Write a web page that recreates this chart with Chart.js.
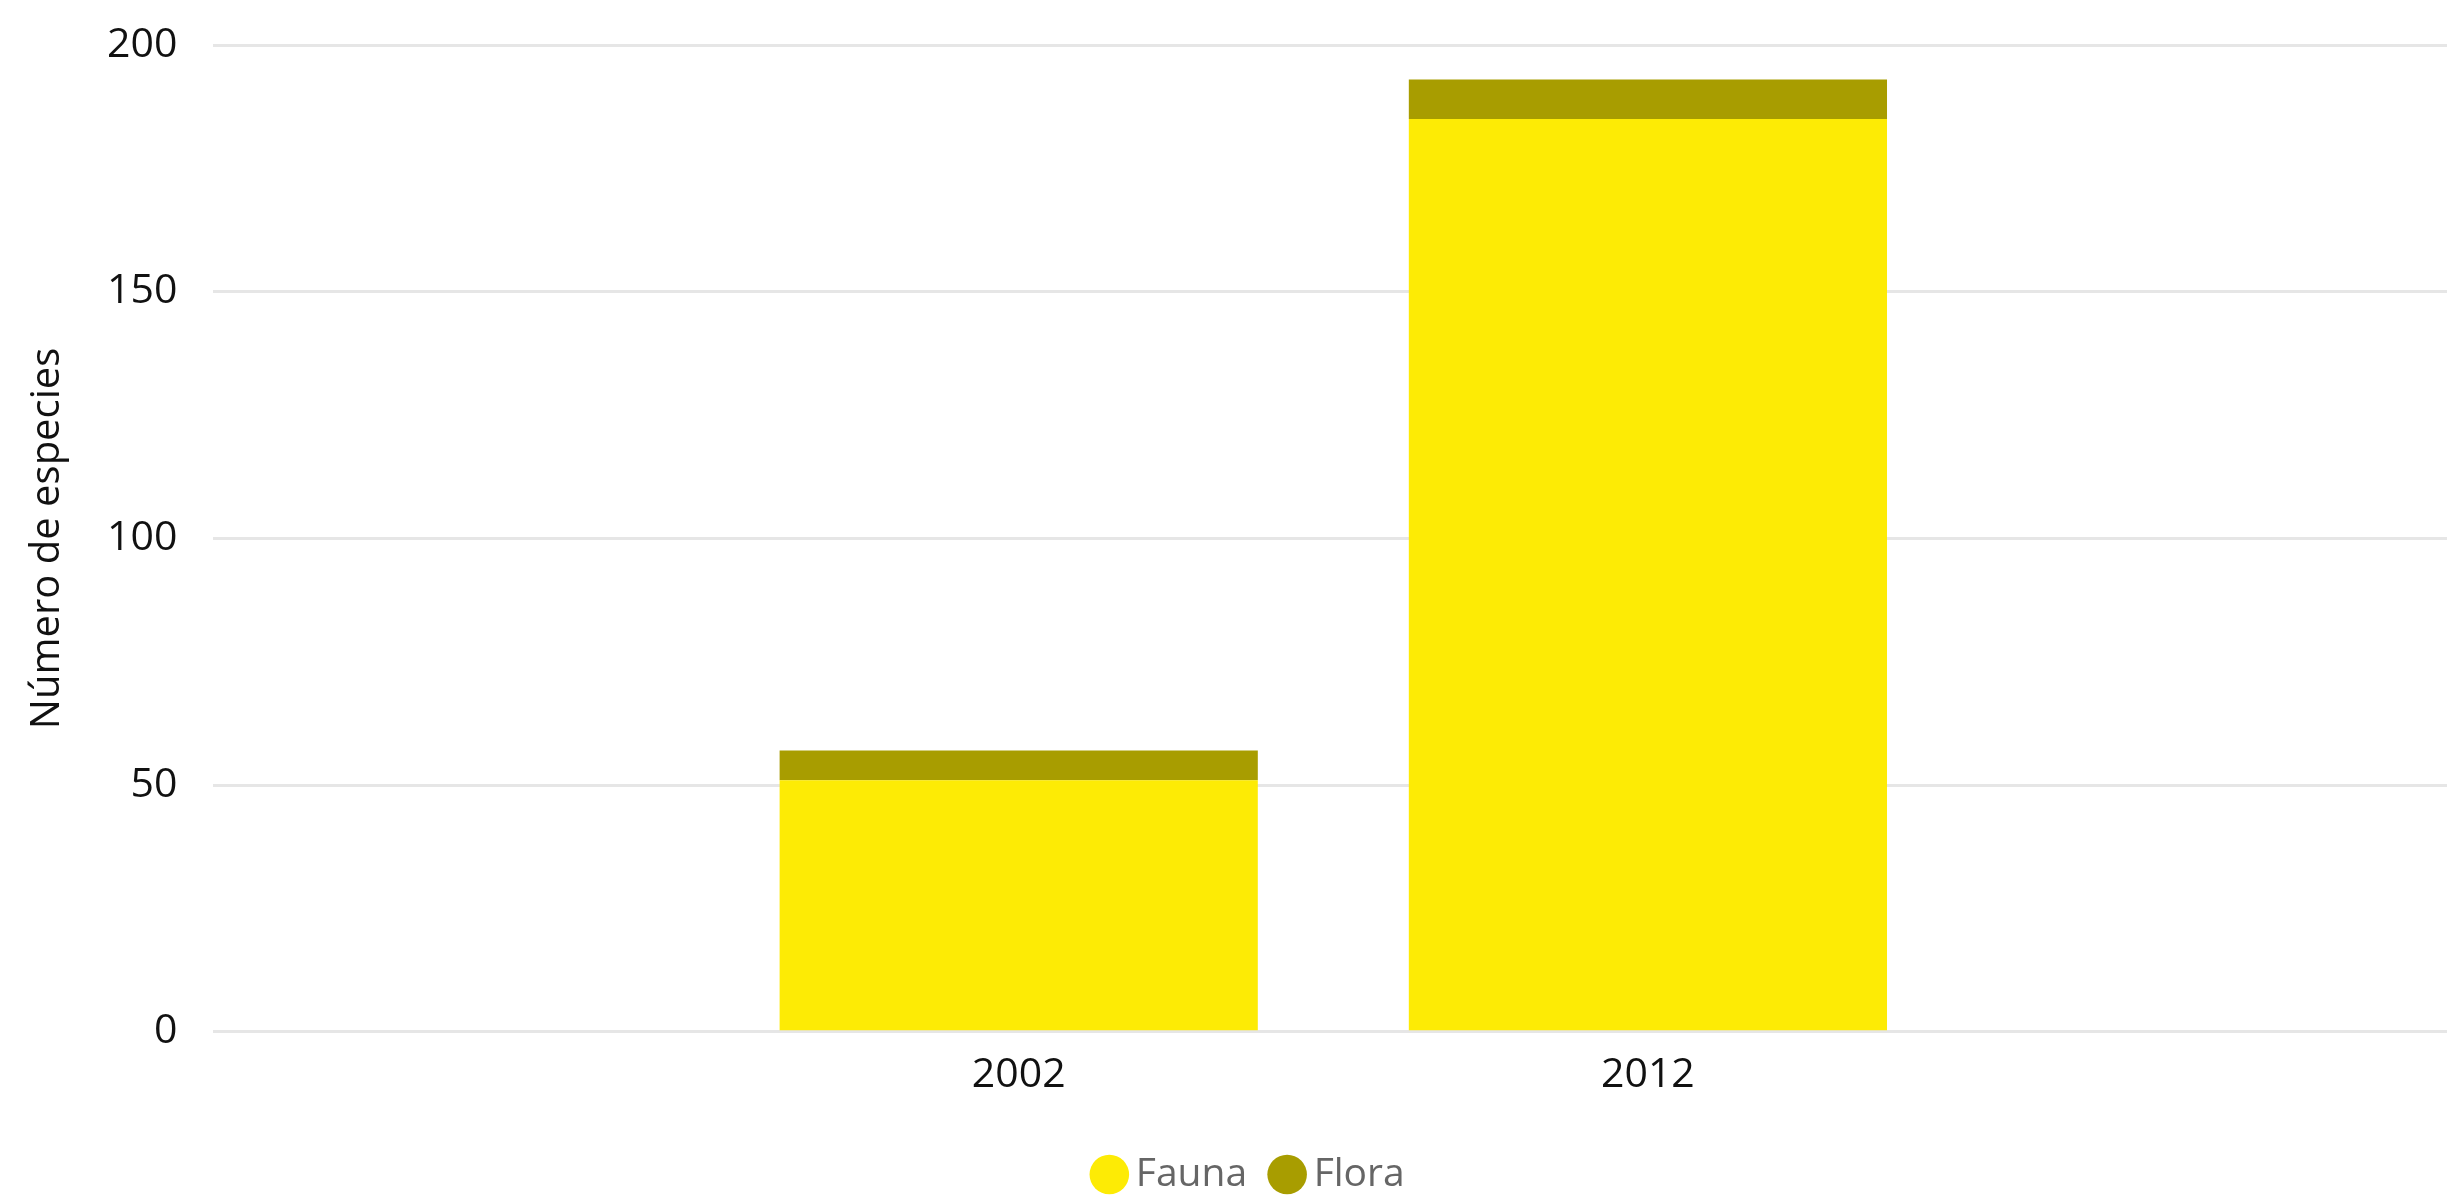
<!DOCTYPE html>
<html>
<head>
<meta charset="utf-8">
<script src="https://cdn.jsdelivr.net/npm/chart.js@4/dist/chart.umd.min.js"></script>
<style>
  html, body { margin: 0; padding: 0; background: #fff; }
  canvas { display: block; }
</style>
</head>
<body>
<canvas id="chart" width="2447" height="1196"></canvas>
<script>
// Species counts per survey year
const years = [2002, 2012];
const fauna = [51, 185];
const flora = [6, 8];
const yTicks = [0, 50, 100, 150, 200];

const FONT = '"Open Sans", "Noto Sans", sans-serif';

function toPoints(values) {
    return years.map((yr, i) => ({ x: yr, y: values[i] }));
}

// legend sits a little right of the canvas centre in the original
const legendShift = {
    id: 'legendShift',
    afterLayout(chart) {
        chart.legend.left += 30;
        chart.legend.right += 30;
    }
};

const ctx = document.getElementById('chart').getContext('2d');
new Chart(ctx, {
    type: 'bar',
    data: {
        datasets: [{
            label: 'Fauna',
            data: toPoints(fauna),
            backgroundColor: '#FDEB05',
            stack: 'a'
        }, {
            label: 'Flora',
            data: toPoints(flora),
            backgroundColor: '#A89D00',
            stack: 'a'
        }]
    },
    plugins: [legendShift],
    options: {
        responsive: false,
        devicePixelRatio: 1,
        animation: false,
        barPercentage: 0.76,
        categoryPercentage: 1,
        layout: {
            padding: { top: 45, right: 0, bottom: -8, left: 0 }
        },
        plugins: {
            tooltip: { enabled: false },
            legend: {
                display: true,
                position: 'bottom',
                labels: {
                    usePointStyle: true,
                    pointStyle: 'circle',
                    boxWidth: 14,
                    boxHeight: 28,
                    padding: 33,
                    color: '#666666',
                    font: { family: FONT, size: 39 }
                }
            }
        },
        scales: {
            x: {
                type: 'linear',
                stacked: true,
                offset: false,
                min: 1989.2,
                max: 2024.7,
                grid: { display: false },
                border: { display: false },
                afterBuildTicks: axis => {
                    axis.ticks = years.map(v => ({ value: v }));
                },
                afterFit: axis => {
                    // extra room between the year labels and the legend
                    axis.height += 11;
                },
                ticks: {
                    color: '#111111',
                    padding: 11,
                    maxRotation: 0,
                    font: { family: FONT, size: 41 },
                    callback: v => String(v)
                }
            },
            y: {
                stacked: true,
                min: 0,
                max: 200,
                afterBuildTicks: axis => {
                    axis.ticks = yTicks.map(v => ({ value: v }));
                },
                grid: {
                    color: '#e6e6e6',
                    lineWidth: 3,
                    drawTicks: true,
                    tickLength: 36,
                    tickColor: 'rgba(0,0,0,0)'
                },
                border: { display: false },
                ticks: {
                    color: '#111111',
                    padding: 0,
                    font: { family: FONT, size: 41 },
                    callback: v => String(v)
                },
                title: {
                    display: true,
                    text: 'Número de especies',
                    color: '#111111',
                    font: { family: FONT, size: 40 },
                    padding: { top: 24, bottom: 35 }
                }
            }
        }
    }
});
</script>
</body>
</html>
